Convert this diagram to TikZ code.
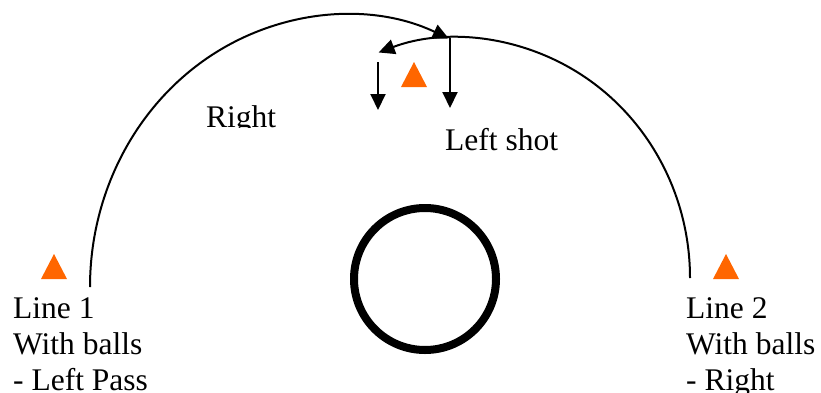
\documentclass[tikz,border=0pt]{standalone}
\usepackage{fontspec}
\setmainfont{Liberation Serif}
\usepackage{tikz}
\usetikzlibrary{arrows.meta}
\definecolor{coneorange}{HTML}{FF6600}
\newcommand{\cone}[1]{\fill[coneorange] (#1) ++(-13,0) -- ++(26,0) -- ++(-13,25) -- cycle;}

\begin{document}
\begin{tikzpicture}[
    x=1pt, y=1pt,
    >={Triangle[length=16pt, width=15pt]},
    pass/.style={->, line width=2pt},
    every node/.style={inner sep=0pt, font=\fontsize{31.5}{36}\selectfont}
]
\useasboundingbox (0,0) rectangle (821,392);
\coordinate (startone) at (90,105);
\coordinate (starttwo) at (690,114);
\coordinate (shotleft) at (378,330);
\coordinate (shotright) at (450,354);
\coordinate (dropleft) at (378,282);
\coordinate (dropright) at (450,284);

% the two runs round the circle
\draw[pass] (startone) arc[start angle=180, end angle=66, x radius=255pt, y radius=272pt];
\draw[pass] (starttwo) arc[start angle=0, end angle=110, x radius=232pt, y radius=240pt];
\draw[pass] (shotleft) -- (dropleft);
\draw[pass] (shotright) -- (dropright);

\draw[line width=8pt] (425,113) circle[radius=71pt];

\cone{54,113}
\cone{414,305}
\cone{726,113}

\begin{scope}
\clip (150,265) rectangle (330,300);
\node[anchor=base west] (rightlbl) at (206,265) {Right};
\end{scope}
\node[anchor=base west] (shotlbl) at (445,242) {Left shot};
% multi-line nodes sit on their last line
\node[anchor=base west, align=left] (lineone) at (13,2) {Line 1\\With balls\\- Left Pass};
\node[anchor=base west, align=left] (linetwo) at (686,2) {Line 2\\With balls\\- Right};
\end{tikzpicture}
\end{document}
